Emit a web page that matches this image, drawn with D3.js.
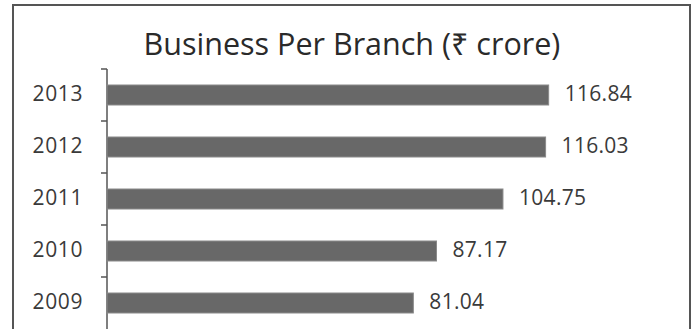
<!DOCTYPE html>
<html>
<head>
<meta charset="utf-8">
<script src="https://cdn.jsdelivr.net/npm/d3@7/dist/d3.min.js"></script>
<style>
  html, body { margin: 0; padding: 0; background: #fff; }
  svg { display: block; }
  text { font-family: "Open Sans", "Noto Sans", sans-serif; fill: #3a3a3a; }
</style>
</head>
<body>
<svg id="chart" width="696" height="329"></svg>
<script>
// Business per branch, in ₹ crore, by year
const years = ["2013", "2012", "2011", "2010", "2009"];
const values = [116.84, 116.03, 104.75, 87.17, 81.04];
const valueLabels = ["116.84", "116.03", "104.75", "87.17", "81.04"];
const title = "Business Per Branch (₹ crore)";

const svg = d3.select("#chart");
const W = 696, H = 329;
const margin = { left: 107, top: 69, right: 22, bottom: 0 };

// outer frame
svg.append("rect")
  .attr("x", 13).attr("y", 5)
  .attr("width", 677).attr("height", 340)
  .attr("fill", "none")
  .attr("stroke", "#555")
  .attr("stroke-width", 2);

svg.append("text")
  .attr("x", 352).attr("y", 55)
  .attr("text-anchor", "middle")
  .style("font-size", "30.5px")
  .style("fill", "#2a2a2a")
  .text(title);

const x = d3.scaleLinear().domain([0, 150]).range([margin.left, margin.left + 567]);
const yTicks = d3.scaleBand().domain(years).range([margin.top, margin.top + 52 * years.length]);

// axis line with tick marks on the band boundaries
const axisG = svg.append("g");
axisG.append("line")
  .attr("x1", margin.left).attr("x2", margin.left)
  .attr("y1", margin.top).attr("y2", H + 5)
  .attr("stroke", "#555").attr("stroke-width", 1.5);
axisG.selectAll("line.tick")
  .data(years)
  .join("line")
  .attr("class", "tick")
  .attr("x1", margin.left - 6).attr("x2", margin.left)
  .attr("y1", d => yTicks(d)).attr("y2", d => yTicks(d))
  .attr("stroke", "#555").attr("stroke-width", 1.5);

axisG.selectAll("text.year")
  .data(years)
  .join("text")
  .attr("class", "year")
  .attr("x", margin.left - 24)
  .attr("y", d => yTicks(d) + yTicks.bandwidth() / 2 - 1)
  .attr("dy", "0.35em")
  .attr("text-anchor", "end")
  .style("font-size", "21px")
  .style("letter-spacing", "0.6px")
  .text(d => d);

const rows = years.map((yr, i) => ({ yr, v: values[i], label: valueLabels[i] }));

svg.selectAll("rect.bar")
  .data(rows)
  .join("rect")
  .attr("class", "bar")
  .attr("x", x(0))
  .attr("y", d => yTicks(d.yr) + yTicks.bandwidth() / 2 - 10)
  .attr("width", d => x(d.v) - x(0))
  .attr("height", 20)
  .attr("fill", "#686868")
  .attr("stroke", "#8a8a8a")
  .attr("stroke-width", 1);

svg.selectAll("text.val")
  .data(rows)
  .join("text")
  .attr("class", "val")
  .attr("x", d => x(d.v) + 16)
  .attr("y", d => yTicks(d.yr) + yTicks.bandwidth() / 2 - 1)
  .attr("dy", "0.35em")
  .style("font-size", "21px")
  .style("letter-spacing", "0.3px")
  .text(d => d.label);
</script>
</body>
</html>
